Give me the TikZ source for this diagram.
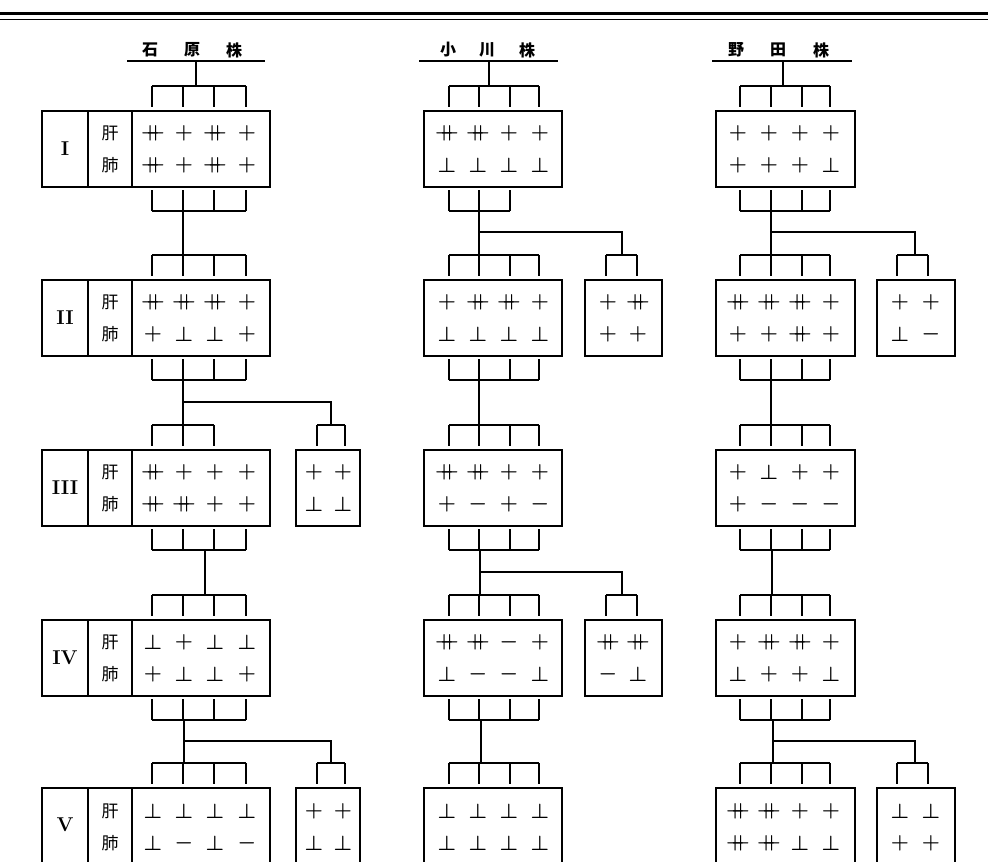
\documentclass[tikz,border=0pt]{standalone}
\usepackage{fontspec}
\newfontfamily\jp{Noto Sans CJK JP}
\newcommand\PP{${+}\mkern-9.5mu{+}$}
\newcommand\PL{$+$}
\newcommand\PE{$\perp$}
\newcommand\MI{$-$}
\newcommand\four[6]{%
 \node[sym] (#1a) at (\cxa,#2) {#3};
 \node[sym] (#1b) at (\cxb,#2) {#4};
 \node[sym] (#1c) at (\cxc,#2) {#5};
 \node[sym] (#1d) at (\cxd,#2) {#6};}
\newcommand\two[4]{%
 \node[sym] (#1a) at (\cxe,#2) {#3};
 \node[sym] (#1b) at (\cxf,#2) {#4};}
\newcommand\topbr[4]{\draw[conn] (#2,#1)--(#3,#1); \foreach \xx in {#4}{\draw[conn] (\xx,#1)--(\xx,#1+21);}}
\newcommand\botbr[4]{\draw[conn] (#2,#1)--(#3,#1); \foreach \xx in {#4}{\draw[conn] (\xx,#1)--(\xx,#1-21);}}
\begin{document}
\begin{tikzpicture}[x=1pt,y=-1pt,
  conn/.style={line width=1.4pt},
  div/.style={line width=1.4pt},
  bx/.style={draw,line width=1.6pt,inner sep=0pt,outer sep=0pt,anchor=north west,minimum height=76pt},
  sym/.style={inner sep=0pt,font=\fontsize{21}{21}\selectfont\boldmath},
  lab/.style={inner sep=0pt,font=\jp\fontsize{17}{17}\selectfont},
  num/.style={inner sep=0pt,font=\fontsize{20}{20}\selectfont\bfseries},
  ttl/.style={inner sep=0pt,font=\jp\bfseries\fontsize{16}{16}\selectfont}]
\useasboundingbox (0,0) rectangle (988,862);
\clip (0,0) rectangle (988,862);
% top rules
\draw[line width=3.5pt] (0,13.5) -- (988,13.5);
\draw[line width=1.2pt] (0,19.5) -- (988,19.5);

%%%%%%%%%%%%%%%% column 1
\def\cxa{153}\def\cxb{184}\def\cxc{215}\def\cxd{247}\def\cxe{314}\def\cxf{343}
\node[ttl] (t1a) at (150,50) {石};
\node[ttl] (t1b) at (192,50) {原};
\node[ttl] (t1c) at (234,50) {株};
\draw[conn] (127,61) -- (265,61);
\coordinate (t1) at (196,61);
% row I
\node[bx,minimum width=228pt] (c1r1) at (42,111) {};
\draw[div] (88,111) -- (88,187); \draw[div] (132,111) -- (132,187);
\node[num] (c1n1) at (65,149) {I};
\node[lab] (c1g1) at (110,133) {肝};
\node[lab] (c1f1) at (110,165) {肺};
\four{c1r1u}{133}{\PP}{\PL}{\PP}{\PL}
\four{c1r1l}{165}{\PP}{\PL}{\PP}{\PL}
\topbr{86}{152}{246}{152,183,214,246}
\botbr{211}{152}{246}{152,183,214,246}
\coordinate (c1r1t) at (196,86);
\draw[conn] (t1) -- (c1r1t);
\coordinate (c1r1b) at (183,211);
\coordinate (c1r2t) at (183,255);
\draw[conn] (c1r1b) -- (c1r2t);
% row II
\node[bx,minimum width=228pt] (c1r2) at (42,280) {};
\draw[div] (88,280) -- (88,356); \draw[div] (132,280) -- (132,356);
\node[num] (c1n2) at (65,318) {II};
\node[lab] (c1g2) at (110,302) {肝};
\node[lab] (c1f2) at (110,334) {肺};
\four{c1r2u}{302}{\PP}{\PP}{\PP}{\PL}
\four{c1r2l}{334}{\PL}{\PE}{\PE}{\PL}
\topbr{255}{152}{246}{152,183,214,246}
\botbr{380}{152}{246}{152,183,214,246}
\coordinate (c1r2b) at (183,380);
\coordinate (c1r3t) at (183,425);
\draw[conn] (c1r2b) -- (c1r3t);
\coordinate (c1j2) at (183,402);
\coordinate (c1s3t) at (331,425);
\draw[conn] (c1j2) -| (c1s3t);
% row III
\node[bx,minimum width=228pt] (c1r3) at (42,450) {};
\draw[div] (88,450) -- (88,526); \draw[div] (132,450) -- (132,526);
\node[num] (c1n3) at (65,488) {III};
\node[lab] (c1g3) at (110,472) {肝};
\node[lab] (c1f3) at (110,504) {肺};
\four{c1r3u}{472}{\PP}{\PL}{\PL}{\PL}
\four{c1r3l}{504}{\PP}{\PP}{\PL}{\PL}
\topbr{425}{152}{214}{152,183,214}
\botbr{550}{152}{246}{152,183,214,246}
\node[bx,minimum width=64pt] (c1s3) at (296,450) {};
\topbr{425}{317}{345}{317,345}
\two{c1s3u}{472}{\PL}{\PL}
\two{c1s3l}{504}{\PE}{\PE}
\coordinate (c1r3b) at (205,550);
\coordinate (c1r4t) at (205,595);
\draw[conn] (c1r3b) -- (c1r4t);
% row IV
\node[bx,minimum width=228pt] (c1r4) at (42,620) {};
\draw[div] (88,620) -- (88,696); \draw[div] (132,620) -- (132,696);
\node[num] (c1n4) at (65,658) {IV};
\node[lab] (c1g4) at (110,642) {肝};
\node[lab] (c1f4) at (110,674) {肺};
\four{c1r4u}{642}{\PE}{\PL}{\PE}{\PE}
\four{c1r4l}{674}{\PL}{\PE}{\PE}{\PL}
\topbr{595}{152}{246}{152,183,214,246}
\botbr{720}{152}{246}{152,183,214,246}
\coordinate (c1r4b) at (184,720);
\coordinate (c1r5t) at (184,763);
\draw[conn] (c1r4b) -- (c1r5t);
\coordinate (c1j4) at (184,741);
\coordinate (c1s5t) at (331,763);
\draw[conn] (c1j4) -| (c1s5t);
% row V
\node[bx,minimum width=228pt] (c1r5) at (42,788) {};
\draw[div] (88,788) -- (88,864); \draw[div] (132,788) -- (132,864);
\node[num] (c1n5) at (65,825) {V};
\node[lab] (c1g5) at (110,811) {肝};
\node[lab] (c1f5) at (110,843) {肺};
\four{c1r5u}{811}{\PE}{\PE}{\PE}{\PE}
\four{c1r5l}{843}{\PE}{\MI}{\PE}{\MI}
\topbr{763}{152}{246}{152,183,214,246}
\node[bx,minimum width=64pt] (c1s5) at (296,788) {};
\topbr{763}{317}{345}{317,345}
\two{c1s5u}{811}{\PL}{\PL}
\two{c1s5l}{843}{\PE}{\PE}

%%%%%%%%%%%%%%%% column 2
\def\cxa{447}\def\cxb{478}\def\cxc{509}\def\cxd{540}\def\cxe{608}\def\cxf{638}
\node[ttl] (t2a) at (448,50) {小};
\node[ttl] (t2b) at (487,50) {川};
\node[ttl] (t2c) at (527,50) {株};
\draw[conn] (419,61) -- (558,61);
\coordinate (t2) at (489,61);
% row I
\node[bx,minimum width=138pt] (c2r1) at (424,111) {};
\four{c2r1u}{133}{\PP}{\PP}{\PL}{\PL}
\four{c2r1l}{165}{\PE}{\PE}{\PE}{\PE}
\topbr{86}{449}{539}{449,479,510,539}
\botbr{211}{449}{510}{449,479,510}
\coordinate (c2r1t) at (489,86);
\draw[conn] (t2) -- (c2r1t);
\coordinate (c2r1b) at (479,211);
\coordinate (c2r2t) at (479,255);
\draw[conn] (c2r1b) -- (c2r2t);
\coordinate (c2j1) at (479,232);
\coordinate (c2s2t) at (622,255);
\draw[conn] (c2j1) -| (c2s2t);
% row II
\node[bx,minimum width=138pt] (c2r2) at (424,280) {};
\four{c2r2u}{302}{\PL}{\PP}{\PP}{\PL}
\four{c2r2l}{334}{\PE}{\PE}{\PE}{\PE}
\topbr{255}{449}{539}{449,479,510,539}
\botbr{380}{449}{539}{449,479,510,539}
\node[bx,minimum width=77pt] (c2s2) at (585,280) {};
\topbr{255}{606}{637}{606,637}
\two{c2s2u}{302}{\PL}{\PP}
\two{c2s2l}{334}{\PL}{\PL}
\coordinate (c2r2b) at (479,380);
\coordinate (c2r3t) at (479,425);
\draw[conn] (c2r2b) -- (c2r3t);
% row III
\node[bx,minimum width=138pt] (c2r3) at (424,450) {};
\four{c2r3u}{472}{\PP}{\PP}{\PL}{\PL}
\four{c2r3l}{504}{\PL}{\MI}{\PL}{\MI}
\topbr{425}{449}{539}{449,479,510,539}
\botbr{550}{449}{539}{449,479,510,539}
\coordinate (c2r3b) at (480,550);
\coordinate (c2r4t) at (480,595);
\draw[conn] (c2r3b) -- (c2r4t);
\coordinate (c2j3) at (480,572);
\coordinate (c2s4t) at (622,595);
\draw[conn] (c2j3) -| (c2s4t);
% row IV
\node[bx,minimum width=138pt] (c2r4) at (424,620) {};
\four{c2r4u}{642}{\PP}{\PP}{\MI}{\PL}
\four{c2r4l}{674}{\PE}{\MI}{\MI}{\PE}
\topbr{595}{449}{539}{449,479,510,539}
\botbr{720}{449}{539}{449,479,510,539}
\node[bx,minimum width=77pt] (c2s4) at (585,620) {};
\topbr{595}{606}{637}{606,637}
\two{c2s4u}{642}{\PP}{\PP}
\two{c2s4l}{674}{\MI}{\PE}
\coordinate (c2r4b) at (481,720);
\coordinate (c2r5t) at (481,763);
\draw[conn] (c2r4b) -- (c2r5t);
% row V
\node[bx,minimum width=138pt] (c2r5) at (424,788) {};
\four{c2r5u}{811}{\PE}{\PE}{\PE}{\PE}
\four{c2r5l}{843}{\PE}{\PE}{\PE}{\PE}
\topbr{763}{449}{539}{449,479,510,539}

%%%%%%%%%%%%%%%% column 3
\def\cxa{738}\def\cxb{769}\def\cxc{800}\def\cxd{831}\def\cxe{900}\def\cxf{931}
\node[ttl] (t3a) at (736,50) {野};
\node[ttl] (t3b) at (778,50) {田};
\node[ttl] (t3c) at (821,50) {株};
\draw[conn] (712,61) -- (852,61);
\coordinate (t3) at (783,61);
% row I
\node[bx,minimum width=139pt] (c3r1) at (716,111) {};
\four{c3r1u}{133}{\PL}{\PL}{\PL}{\PL}
\four{c3r1l}{165}{\PL}{\PL}{\PL}{\PE}
\topbr{86}{740}{830}{740,771,802,830}
\botbr{211}{740}{830}{740,771,802,830}
\coordinate (c3r1t) at (783,86);
\draw[conn] (t3) -- (c3r1t);
\coordinate (c3r1b) at (771,211);
\coordinate (c3r2t) at (771,255);
\draw[conn] (c3r1b) -- (c3r2t);
\coordinate (c3j1) at (771,232);
\coordinate (c3s2t) at (915,255);
\draw[conn] (c3j1) -| (c3s2t);
% row II
\node[bx,minimum width=139pt] (c3r2) at (716,280) {};
\four{c3r2u}{302}{\PP}{\PP}{\PP}{\PL}
\four{c3r2l}{334}{\PL}{\PL}{\PP}{\PL}
\topbr{255}{740}{830}{740,771,802,830}
\botbr{380}{740}{830}{740,771,802,830}
\node[bx,minimum width=78pt] (c3s2) at (877,280) {};
\topbr{255}{897}{928}{897,928}
\two{c3s2u}{302}{\PL}{\PL}
\two{c3s2l}{334}{\PE}{\MI}
\coordinate (c3r2b) at (771,380);
\coordinate (c3r3t) at (771,425);
\draw[conn] (c3r2b) -- (c3r3t);
% row III
\node[bx,minimum width=139pt] (c3r3) at (716,450) {};
\four{c3r3u}{472}{\PL}{\PE}{\PL}{\PL}
\four{c3r3l}{504}{\PL}{\MI}{\MI}{\MI}
\topbr{425}{740}{830}{740,771,802,830}
\botbr{550}{740}{830}{740,771,802,830}
\coordinate (c3r3b) at (772,550);
\coordinate (c3r4t) at (772,595);
\draw[conn] (c3r3b) -- (c3r4t);
% row IV
\node[bx,minimum width=139pt] (c3r4) at (716,620) {};
\four{c3r4u}{642}{\PL}{\PP}{\PP}{\PL}
\four{c3r4l}{674}{\PE}{\PL}{\PL}{\PE}
\topbr{595}{740}{830}{740,771,802,830}
\botbr{720}{740}{830}{740,771,802,830}
\coordinate (c3r4b) at (773,720);
\coordinate (c3r5t) at (773,763);
\draw[conn] (c3r4b) -- (c3r5t);
\coordinate (c3j4) at (773,741);
\coordinate (c3s5t) at (915,763);
\draw[conn] (c3j4) -| (c3s5t);
% row V
\node[bx,minimum width=139pt] (c3r5) at (716,788) {};
\four{c3r5u}{811}{\PP}{\PP}{\PL}{\PL}
\four{c3r5l}{843}{\PP}{\PP}{\PE}{\PE}
\topbr{763}{740}{830}{740,771,802,830}
\node[bx,minimum width=78pt] (c3s5) at (877,788) {};
\topbr{763}{897}{928}{897,928}
\two{c3s5u}{811}{\PE}{\PE}
\two{c3s5l}{843}{\PL}{\PL}
\end{tikzpicture}
\end{document}
